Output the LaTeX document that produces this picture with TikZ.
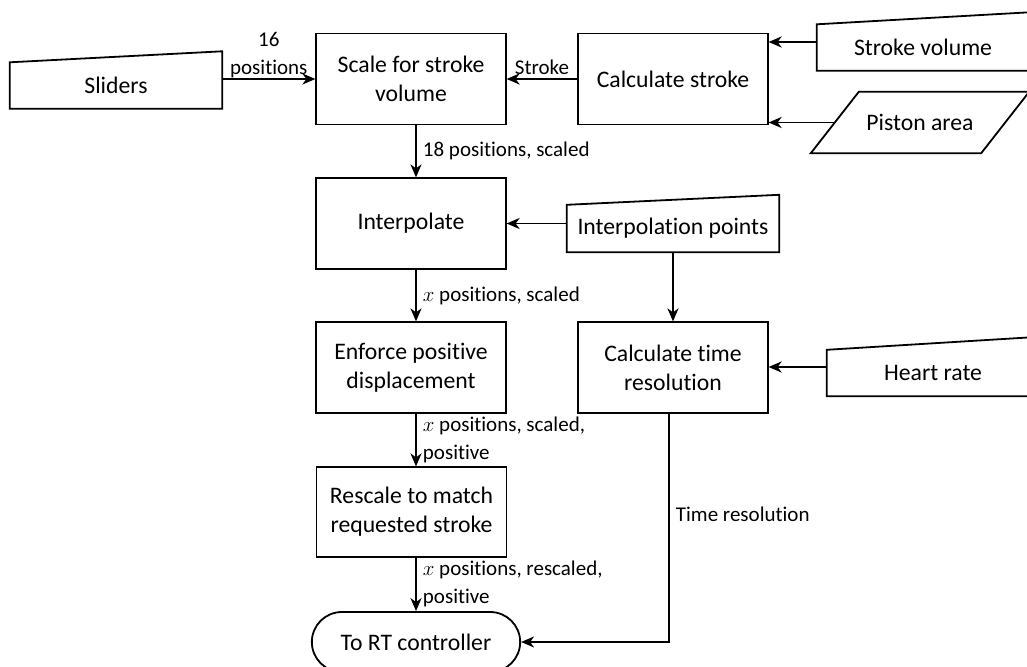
\documentclass[tikz,border=0pt]{standalone}
\usepackage{fontspec}
\setmainfont{Carlito}[Ligatures=NoCommon]
\usetikzlibrary{arrows.meta, shapes.misc}

\tikzset{
  boxfont/.style={font=\fontsize{23.7}{29}\selectfont},
  box/.style={boxfont, draw, line width=1.2pt, minimum width=190pt, minimum height=91pt, align=center, inner sep=0pt},
  inbox/.style={boxfont, minimum width=212pt, minimum height=46pt, inner sep=0pt},
  terminal/.style={boxfont, rounded rectangle, draw, line width=1.8pt, minimum width=215pt, minimum height=60pt},
  arr/.style={line width=1.9pt, -{Stealth[length=13pt, width=11pt, inset=4pt]}},
  lbl/.style={font=\fontsize{21}{28}\selectfont, align=left, inner sep=6pt}
}
% manual input outline, top edge raised at the right
\newcommand{\inputoutline}[2]{\draw[line width=1.8pt] (#1.south west) -- (#1.south east) -- ([yshift=#2]#1.north east) -- (#1.north west) -- cycle;}

\begin{document}
\begin{tikzpicture}[x=1pt, y=-1pt]
        \useasboundingbox (0,0) rectangle (1027,666);
        % inputs
        \node[inbox] (sliders) at (116,85.5) {Sliders};
        \inputoutline{sliders}{11pt}
        \node[inbox] (svol) at (923,47.5) {Stroke volume};
        \inputoutline{svol}{12pt}
        \node[boxfont, minimum width=170pt, minimum height=61pt, inner sep=0pt] (piston) at (920,122.5) {Piston area};
        \draw[line width=1.8pt] ([xshift=24pt]piston.north west) -- ([xshift=24pt]piston.north east) -- ([xshift=-24pt]piston.south east) -- ([xshift=-24pt]piston.south west) -- cycle;
        \node[inbox, minimum height=47pt] (ipts) at (673,228.5) {Interpolation points};
        \inputoutline{ipts}{10pt}
        \node[inbox] (heart) at (933,373) {Heart rate};
        \inputoutline{heart}{13pt}
        % process boxes
        \node[box] (scale) at (411,79) {Scale for stroke\\volume};
        \node[box] (cstroke) at (673,79) {Calculate stroke};
        \node[box] (interp) at (411,223.5) {Interpolate};
        \node[box] (enforce) at (411,367.5) {Enforce positive\\displacement};
        \node[box] (ctime) at (673,367.5) {Calculate time\\resolution};
        \node[box, minimum height=90pt] (rescale) at (411.5,512) {Rescale to match\\requested stroke};
        \node[terminal] (rtc) at (416,642) {To RT controller};
        % connectors
        \draw[arr] (scale.west -| sliders.east) -- (scale.west) node[lbl, midway, above, align=center, inner sep=0pt] {16\\positions};
        \draw[arr] (cstroke.west) -- (scale.east) node[lbl, midway, above, inner sep=3pt] {Stroke};
        \draw[arr] ([yshift=5.5pt]svol.west) -- ([yshift=5.5pt]svol.west -| cstroke.east);
        \draw[arr] (piston.west) -- (piston.west -| cstroke.east);
        \draw[arr] ([xshift=5pt]scale.south) -- ([xshift=5pt]interp.north) node[lbl, midway, right] {18 positions, scaled};
        \draw[arr] ([yshift=5pt]ipts.west) -- ([yshift=5pt]ipts.west -| interp.east);
        \draw[arr] ([xshift=5pt]interp.south) -- ([xshift=5pt]enforce.north) node[lbl, midway, right] {$x$ positions, scaled};
        \draw[arr] (ipts.south -| ctime.north) -- (ctime.north);
        \draw[arr] ([yshift=6pt]heart.west) -- ([yshift=6pt]heart.west -| ctime.east);
        \draw[arr] ([xshift=5pt]enforce.south) -- ([xshift=5pt]enforce.south |- rescale.north) node[lbl, midway, right] {$x$ positions, scaled,\\positive};
        \draw[arr] ([xshift=4.5pt]rescale.south) -- (rtc.north) node[lbl, midway, right] {$x$ positions, rescaled,\\positive};
        \draw[arr] ([xshift=-4pt]ctime.south) |- (rtc.east) node[lbl, pos=0.22, right] {Time resolution};
\end{tikzpicture}
\end{document}
